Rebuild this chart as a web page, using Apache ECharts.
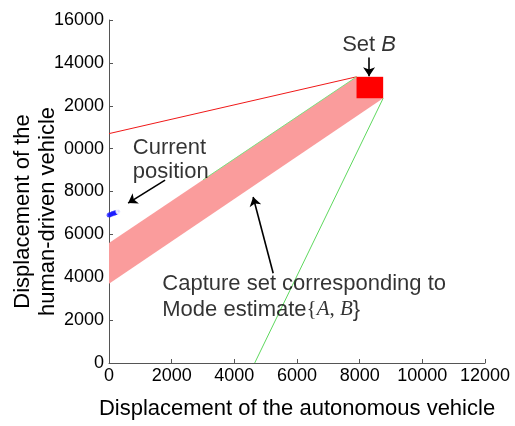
<!DOCTYPE html>
<html>
<head>
<meta charset="utf-8">
<script src="https://cdn.jsdelivr.net/npm/echarts@6/dist/echarts.min.js"></script>
<style>
  html, body { margin: 0; padding: 0; background: #fff; }
  #chart { width: 515px; height: 426px; }
</style>
</head>
<body>
<div id="chart"></div>
<script>
// Axis ticks and their printed labels
var xTicks = [0, 2000, 4000, 6000, 8000, 10000, 12000];
var yTickLabels = ['0', '2000', '4000', '6000', '8000', '0000', '2000', '14000', '16000'];

// Capture set band (polygon corners, autonomous vs human-driven displacement)
var bandX = [0, 0, 7900, 8750];
var bandY = [3700, 5600, 13350, 12350];

// Target set B (rectangle corners)
var setBX = [7900, 8750];
var setBY = [12350, 13350];

// Boundary lines
var redLineX = [0, 7900];
var redLineY = [10700, 13350];
var greenTopX = [3000, 7900];
var greenTopY = [8540, 13350];
var greenSideX = [4650, 8750];
var greenSideY = [0, 12350];

// Trajectory of the current position
var trajX = [0, 40, 80, 120, 160, 200, 240, 280];
var trajY = [6900, 6920, 6945, 6965, 6985, 7010, 7030, 7050];
var currentX = [330];
var currentY = [7100];

// Annotation arrows [x1, y1, x2, y2]
var arrowSetB = [8300, 14250, 8300, 13380];
var arrowCurrent = [1790, 8530, 610, 7460];
var arrowCapture = [5240, 4190, 4600, 7740];

// Annotation anchors
var labelSetB = [8300, 14850];
var labelCurrent = [760, 9470];
var labelCapture = [1700, 3100];

var FONT = '"Liberation Sans", Arial, sans-serif';
var INK = '#000';

function zip(xs, ys) {
  return xs.map(function (x, i) { return [x, ys[i]]; });
}

var asterisk = 'path://M0,-5L0,5M-5,0L5,0M-3.5,-3.5L3.5,3.5M-3.5,3.5L3.5,-3.5';

var chart = echarts.init(document.getElementById('chart'), null, { renderer: 'canvas' });

chart.setOption({
  backgroundColor: '#fff',
  animation: false,
  grid: {
    left: 109, right: 30, top: 20, bottom: 63,
    containLabel: false,
    outerBoundsMode: 'none'
  },
  xAxis: {
    type: 'value',
    min: 0, max: 12000, interval: 2000,
    name: 'Displacement of the autonomous vehicle',
    nameLocation: 'middle',
    nameGap: 35,
    nameMoveOverlap: false,
    nameTextStyle: { fontFamily: FONT, fontSize: 22, color: INK },
    axisLine: { show: true, lineStyle: { color: '#555', width: 1 } },
    axisTick: { show: true, inside: true, length: 4, lineStyle: { color: '#555' } },
    axisLabel: {
      fontFamily: FONT, fontSize: 18, color: INK, margin: 4,
      formatter: function (v) { return String(v); }
    },
    splitLine: { show: false }
  },
  yAxis: {
    type: 'value',
    min: 0, max: 16000, interval: 2000,
    name: 'Displacement of the\nhuman-driven vehicle',
    nameLocation: 'middle',
    nameRotate: 90,
    nameGap: 49,
    nameMoveOverlap: false,
    nameTextStyle: {
      fontFamily: FONT, fontSize: 22, color: INK, lineHeight: 25,
      padding: [0, 40, 0, 0]
    },
    axisLine: { show: true, lineStyle: { color: '#555', width: 1 } },
    axisTick: { show: true, inside: true, length: 4, lineStyle: { color: '#555' } },
    axisLabel: {
      fontFamily: FONT, fontSize: 18, color: INK, margin: 5,
      formatter: function (v) { return yTickLabels[Math.round(v / 2000)]; }
    },
    splitLine: { show: false }
  },
  series: [
    {
      // capture set band
      type: 'custom',
      coordinateSystem: 'cartesian2d',
      silent: true,
      z: 2,
      data: [0],
      renderItem: function (params, api) {
        var pts = zip(bandX, bandY).map(function (p) { return api.coord(p); });
        return {
          type: 'polygon',
          shape: { points: pts },
          style: { fill: '#fa9c9c', stroke: null }
        };
      }
    },
    {
      type: 'line',
      data: zip(redLineX, redLineY),
      symbol: 'none',
      z: 3,
      lineStyle: { color: '#f01818', width: 1 }
    },
    {
      type: 'line',
      data: zip(greenTopX, greenTopY),
      symbol: 'none',
      z: 3,
      lineStyle: { color: '#7ee07e', width: 1 }
    },
    {
      type: 'line',
      data: zip(greenSideX, greenSideY),
      symbol: 'none',
      z: 3,
      lineStyle: { color: '#5ed85e', width: 1 }
    },
    {
      // target set B
      type: 'custom',
      coordinateSystem: 'cartesian2d',
      silent: true,
      z: 4,
      data: [0],
      renderItem: function (params, api) {
        var a = api.coord([setBX[0], setBY[1]]);
        var b = api.coord([setBX[1], setBY[0]]);
        return {
          type: 'rect',
          shape: { x: a[0], y: a[1], width: b[0] - a[0], height: b[1] - a[1] },
          style: { fill: '#ff0000', stroke: null }
        };
      }
    },
    {
      type: 'scatter',
      data: zip(trajX, trajY),
      symbol: asterisk,
      symbolSize: 5,
      z: 5,
      itemStyle: { color: 'none', borderColor: '#1a1aff', borderWidth: 1.2 }
    },
    {
      type: 'scatter',
      data: zip(currentX, currentY),
      symbol: 'emptyCircle',
      symbolSize: 6,
      z: 6,
      itemStyle: { color: '#fff', borderColor: '#ff3030', borderWidth: 1 }
    },
    {
      // annotation arrows
      type: 'lines',
      coordinateSystem: 'cartesian2d',
      z: 7,
      symbol: ['none', 'arrow'],
      symbolSize: 9,
      lineStyle: { color: '#000', width: 1.6, opacity: 1 },
      data: [arrowSetB, arrowCurrent, arrowCapture].map(function (a) {
        return { coords: [[a[0], a[1]], [a[2], a[3]]] };
      })
    },
    {
      // annotation texts
      type: 'scatter',
      symbolSize: 0,
      z: 8,
      silent: true,
      data: [
        {
          value: labelSetB,
          label: {
            show: true, position: 'inside', align: 'center', verticalAlign: 'middle',
            formatter: 'Set {i|B}',
            fontFamily: FONT, fontSize: 22, color: INK,
            rich: { i: { fontFamily: FONT, fontSize: 22, fontStyle: 'italic', color: INK } }
          }
        },
        {
          value: labelCurrent,
          label: {
            show: true, position: 'right', distance: 0, align: 'left',
            formatter: 'Current\nposition',
            fontFamily: FONT, fontSize: 22, color: INK, lineHeight: 24
          }
        },
        {
          value: labelCapture,
          label: {
            show: true, position: 'right', distance: 0, align: 'left',
            formatter: 'Capture set corresponding to\nMode estimate{s|{}{i|A}{s|, }{i|B}{s|\u007d}',
            fontFamily: FONT, fontSize: 22, color: INK, lineHeight: 26,
            rich: {
              s: { fontFamily: '"Liberation Serif", serif', fontSize: 21, color: INK, lineHeight: 26 },
              i: { fontFamily: '"Liberation Serif", serif', fontStyle: 'italic', fontSize: 21, color: INK, lineHeight: 26 }
            }
          }
        }
      ]
    }
  ]
});
</script>
</body>
</html>
